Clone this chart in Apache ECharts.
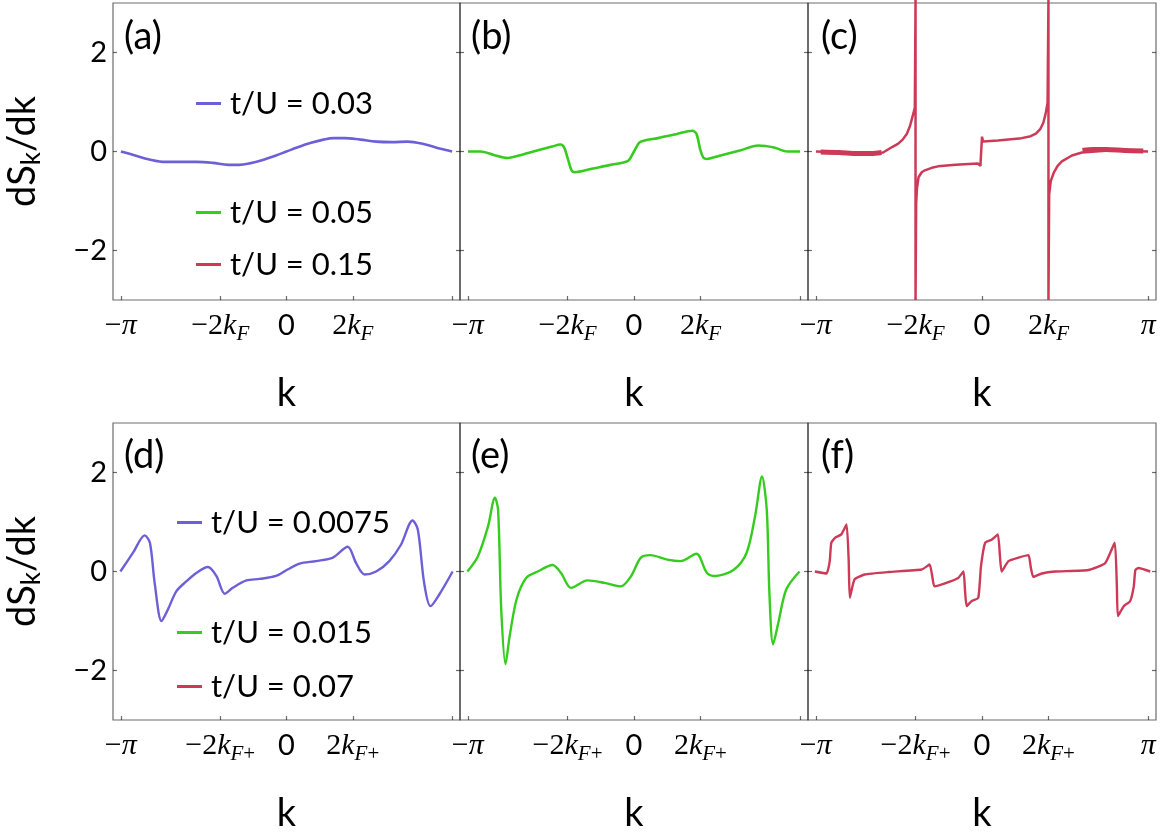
<!DOCTYPE html>
<html>
<head>
<meta charset="utf-8">
<title>dS_k/dk</title>
<script src="https://cdn.jsdelivr.net/npm/echarts@6.0.0/dist/echarts.min.js"></script>
<style>
  html, body { margin: 0; padding: 0; background: #fff; }
  #chart { width: 1165px; height: 836px; }
</style>
</head>
<body>
<div id="chart"></div>
<script>
// momentum grid positions (radians)
const kTicksTop = [-Math.PI, -1.2566, 0, 1.2566, Math.PI];
const yTicks = [-2, 0, 2];

// (a) t/U = 0.03
const kA = [-3.14, -2.9, -2.6, -2.3, -2.0, -1.7, -1.4, -1.1, -0.9, -0.7, -0.45, -0.2, 0, 0.2, 0.45, 0.7, 0.9, 1.1, 1.4, 1.7, 2.0, 2.3, 2.6, 2.9, 3.14];
const sA = [0, -0.07, -0.16, -0.21, -0.21, -0.21, -0.23, -0.27, -0.27, -0.24, -0.17, -0.08, 0, 0.08, 0.17, 0.24, 0.27, 0.27, 0.24, 0.2, 0.19, 0.2, 0.15, 0.06, 0];

// (b) t/U = 0.05
const kB = [-3.14, -2.9, -2.65, -2.39, -2.1, -1.8, -1.55, -1.39, -1.32, -1.25, -1.18, -1.12, -0.8, -0.45, -0.2, -0.1, 0, 0.1, 0.2, 0.45, 0.8, 1.1, 1.18, 1.25, 1.31, 1.38, 1.6, 2.0, 2.35, 2.65, 2.9, 3.14];
const sB = [0, 0, -0.07, -0.13, -0.06, 0.03, 0.1, 0.14, 0.08, -0.15, -0.38, -0.42, -0.35, -0.27, -0.22, -0.18, 0, 0.18, 0.22, 0.27, 0.35, 0.42, 0.36, 0.05, -0.12, -0.15, -0.09, 0.02, 0.12, 0.08, 0.0, 0];

// (c) t/U = 0.15  (divergences at +-2kF)
const kC = [-3.14, -2.6, -2.2, -1.87, -1.7, -1.59, -1.5, -1.42, -1.36, -1.31, -1.27, -1.2566, -1.2566, -1.245, -1.23, -1.20, -1.14, -1.08, -0.95, -0.83, -0.5, -0.08, -0.03, -0.01, 0.0, 0.02, 0.3, 0.75, 0.92, 1.02, 1.1, 1.16, 1.2, 1.24, 1.2566, 1.2566, 1.27, 1.30, 1.36, 1.43, 1.51, 1.70, 1.89, 2.4, 3.14];
const sC = [0, -0.02, -0.04, -0.02, 0.09, 0.155, 0.24, 0.36, 0.52, 0.72, 0.88, 3.1, -3.0, -1.05, -0.75, -0.52, -0.42, -0.38, -0.33, -0.30, -0.27, -0.24, -0.29, -0.28, 0.30, 0.2, 0.22, 0.27, 0.31, 0.36, 0.45, 0.58, 0.75, 0.98, 3.1, -3.0, -0.87, -0.6, -0.42, -0.29, -0.2, -0.08, -0.02, 0.02, 0];
// fuzzy (oscillating) stretches of (c)
const kCbandL = [-3.05, -2.7, -2.35, -2.1, -1.9];
const sCbandL = [-0.01, -0.02, -0.04, -0.04, -0.02];
const kCbandR = [1.9, 2.1, 2.35, 2.7, 3.05];
const sCbandR = [0.02, 0.04, 0.04, 0.02, 0.01];

// (d) t/U = 0.0075
const kD = [-3.15, -2.91, -2.69, -2.59, -2.5, -2.37, -2.25, -2.09, -1.90, -1.71, -1.49, -1.33, -1.17, -1.02, -0.76, -0.51, -0.2, 0.02, 0.25, 0.56, 0.88, 1.16, 1.32, 1.48, 1.70, 1.95, 2.17, 2.39, 2.49, 2.61, 2.73, 2.90, 3.15];
const sD = [0, 0.38, 0.73, 0.58, -0.23, -1.0, -0.77, -0.40, -0.2, -0.03, 0.09, -0.09, -0.45, -0.33, -0.18, -0.15, -0.09, 0.04, 0.16, 0.21, 0.28, 0.50, 0.17, -0.06, 0.0, 0.21, 0.54, 1.03, 0.85, -0.23, -0.70, -0.46, 0];

// (e) t/U = 0.015
const kE = [-3.15, -2.95, -2.76, -2.63, -2.57, -2.51, -2.43, -2.35, -2.22, -2.04, -1.82, -1.54, -1.38, -1.19, -0.88, -0.56, -0.25, -0.06, 0.13, 0.31, 0.63, 0.88, 1.18, 1.38, 1.54, 1.88, 2.13, 2.29, 2.42, 2.51, 2.56, 2.63, 2.73, 2.88, 3.13];
const sE = [0, 0.31, 0.91, 1.49, 1.25, -0.77, -1.87, -1.30, -0.56, -0.13, 0.0, 0.13, -0.03, -0.33, -0.18, -0.23, -0.30, -0.1, 0.28, 0.33, 0.24, 0.21, 0.36, -0.03, -0.09, 0.03, 0.38, 1.12, 1.92, 1.25, -0.43, -1.47, -1.03, -0.36, 0];

// (f) t/U = 0.07
const kF = [-3.16, -2.94, -2.88, -2.85, -2.78, -2.66, -2.56, -2.52, -2.50, -2.41, -2.22, -1.77, -1.14, -0.99, -0.94, -0.90, -0.70, -0.45, -0.35, -0.32, -0.29, -0.20, -0.07, -0.02, 0.06, 0.18, 0.30, 0.34, 0.37, 0.50, 0.69, 0.88, 0.92, 0.97, 1.13, 1.38, 2.01, 2.33, 2.51, 2.55, 2.57, 2.68, 2.80, 2.87, 2.90, 2.96, 3.18];
const sF = [0, -0.04, 0.2, 0.58, 0.68, 0.75, 0.95, 0.2, -0.53, -0.16, -0.06, -0.01, 0.04, 0.14, -0.1, -0.30, -0.24, -0.13, 0.0, -0.4, -0.70, -0.60, -0.53, 0.1, 0.58, 0.64, 0.75, 0.3, 0.0, 0.21, 0.28, 0.33, 0.1, -0.11, -0.04, 0.0, 0.03, 0.17, 0.58, -0.3, -0.90, -0.70, -0.60, -0.3, 0.03, 0.07, 0];

const BLUE = '#6c5fd7';
const GREEN = '#36cc1f';
const RED = '#cc3a57';
const FRAME = 'rgba(0,0,0,0.58)';

const chart = echarts.init(document.getElementById('chart'), null, { renderer: 'canvas' });

// panel boxes: 3 columns x 2 rows
const colLeft = [113, 460, 808];
const colWidth = 348;
const rowTop = [3, 423];
const rowHeight = 297;

const grids = [];
for (let r = 0; r < 2; r++) {
    for (let c = 0; c < 3; c++) {
        grids.push({
            left: colLeft[c], top: rowTop[r], width: colWidth - (c === 0 ? 1 : 0), height: rowHeight,
            show: true, borderColor: FRAME, borderWidth: 1.2, backgroundColor: 'transparent'
        });
    }
}

const serif = 'Liberation Serif';
const richK = {
    m: { fontFamily: serif, fontSize: 30, lineHeight: 38, color: '#000' },
    i: { fontFamily: serif, fontStyle: 'italic', fontSize: 30, lineHeight: 38, color: '#000' },
    s: { fontFamily: serif, fontStyle: 'italic', fontSize: 21, lineHeight: 21, verticalAlign: 'bottom', color: '#000' },
    p: { fontFamily: serif, fontSize: 21, lineHeight: 21, verticalAlign: 'bottom', color: '#000' },
    z: { fontFamily: 'Lato', fontSize: 29, lineHeight: 38, color: '#000' }
};

function kLabel(v, plus) {
    if (Math.abs(v) < 1e-6) return '{z|0}';
    if (Math.abs(Math.abs(v) - Math.PI) < 1e-3) return v < 0 ? '{m|−}{i|π}' : '{i|π}';
    const sub = plus ? '{s|F}{p|+}' : '{s|F}';
    return (v < 0 ? '{m|−2}' : '{m|2}') + '{i|k}' + sub;
}

const xAxes = grids.map((g, i) => {
    const col = i % 3;
    const bottomRow = i >= 3;
    return {
        gridIndex: i,
        type: 'value',
        min: -3.29,
        max: 3.29,
        axisLine: { show: false, onZero: false },
        splitLine: { show: false },
        axisTick: {
            show: true, inside: true, length: 4,
            customValues: kTicksTop,
            lineStyle: { color: FRAME, width: 1.2 }
        },
        axisLabel: {
            show: true,
            margin: 7,
            customValues: col === 2 ? kTicksTop : kTicksTop.slice(0, 4),
            formatter: v => kLabel(v, bottomRow),
            rich: richK
        },
        name: 'k',
        nameLocation: 'middle',
        nameGap: 75,
        nameTextStyle: { fontFamily: 'Lato', fontSize: 38, color: '#000' }
    };
});

const yAxes = [];
grids.forEach((g, i) => {
    const first = i % 3 === 0;
    yAxes.push({
        gridIndex: i,
        type: 'value',
        position: 'left',
        min: -3,
        max: 3,
        axisLine: { show: false, onZero: false },
        splitLine: { show: false },
        axisTick: { show: true, inside: true, length: 4, customValues: yTicks, lineStyle: { color: FRAME, width: 1.2 } },
        axisLabel: {
            show: first,
            margin: 6,
            customValues: yTicks,
            formatter: v => (v < 0 ? '−' + Math.abs(v) : String(v)),
            fontFamily: 'Lato', fontSize: 29, color: '#000'
        },
        name: first ? '{a|dS}{b|k}{a|/dk}' : '',
        nameLocation: 'middle',
        nameGap: 68,
        nameRotate: 90,
        nameTextStyle: {
            rich: {
                a: { fontFamily: 'Lato', fontSize: 38, lineHeight: 44, color: '#000' },
                b: { fontFamily: 'Lato', fontSize: 26, lineHeight: 26, verticalAlign: 'bottom', color: '#000' }
            }
        }
    });
    yAxes.push({
        gridIndex: i,
        type: 'value',
        position: 'right',
        min: -3,
        max: 3,
        axisLine: { show: false, onZero: false },
        splitLine: { show: false },
        axisTick: { show: true, inside: true, length: 4, customValues: yTicks, lineStyle: { color: FRAME, width: 1.2 } },
        axisLabel: { show: false }
    });
});

const panels = [
    { grid: 0, name: 't/U = 0.03', k: kA, s: sA, color: BLUE, smooth: 0.35, width: 2.6 },
    { grid: 1, name: 't/U = 0.05', k: kB, s: sB, color: GREEN, smooth: 0.3, width: 2.6 },
    { grid: 2, name: 't/U = 0.15', k: kC, s: sC, color: RED, smooth: false, width: 2.5 },
    { grid: 2, name: 'band-left', k: kCbandL, s: sCbandL, color: RED, smooth: 0.3, width: 5 },
    { grid: 2, name: 'band-right', k: kCbandR, s: sCbandR, color: RED, smooth: 0.3, width: 5 },
    { grid: 3, name: 't/U = 0.0075', k: kD, s: sD, color: BLUE, smooth: 0.3, width: 2.4 },
    { grid: 4, name: 't/U = 0.015', k: kE, s: sE, color: GREEN, smooth: 0.3, width: 2.4 },
    { grid: 5, name: 't/U = 0.07', k: kF, s: sF, color: RED, smooth: 0.15, width: 2.4 }
];

const series = panels.map(p => ({
    type: 'line',
    name: p.name,
    xAxisIndex: p.grid,
    yAxisIndex: p.grid * 2,
    data: p.k.map((k, i) => [k, p.s[i]]),
    showSymbol: false,
    symbol: 'none',
    smooth: p.smooth,
    clip: false,
    color: p.color,
    lineStyle: { color: p.color, width: p.width },
    emphasis: { disabled: true }
}));

// legend entries placed inside panels (a) and (d)
const legendBase = {
    orient: 'vertical', padding: 0, icon: 'rect', itemWidth: 25, itemHeight: 3, itemGap: 0,
    selectedMode: false,
    textStyle: { fontFamily: 'Lato', fontSize: 31, color: '#000', padding: [0, 0, 0, 4] }
};
const legends = [
    { data: ['t/U = 0.03'], left: 196, top: 88 },
    { data: ['t/U = 0.05'], left: 196, top: 197 },
    { data: ['t/U = 0.15'], left: 196, top: 249 },
    { data: ['t/U = 0.0075'], left: 177, top: 507 },
    { data: ['t/U = 0.015'], left: 177, top: 617 },
    { data: ['t/U = 0.07'], left: 177, top: 671 }
].map(l => Object.assign({}, legendBase, l));

const labelStyle = { fontFamily: 'Lato', fontSize: 38, fontWeight: 'normal', color: '#000' };
const titles = [
    { text: '(a)', left: 124, top: 18 },
    { text: '(b)', left: 471, top: 18 },
    { text: '(c)', left: 821, top: 18 },
    { text: '(d)', left: 124, top: 437 },
    { text: '(e)', left: 471, top: 437 },
    { text: '(f)', left: 821, top: 437 }
].map(t => Object.assign({ padding: 0, textStyle: labelStyle }, t));

chart.setOption({
    animation: false,
    backgroundColor: '#fff',
    title: titles,
    legend: legends,
    grid: grids,
    xAxis: xAxes,
    yAxis: yAxes,
    series: series
});
</script>
</body>
</html>
